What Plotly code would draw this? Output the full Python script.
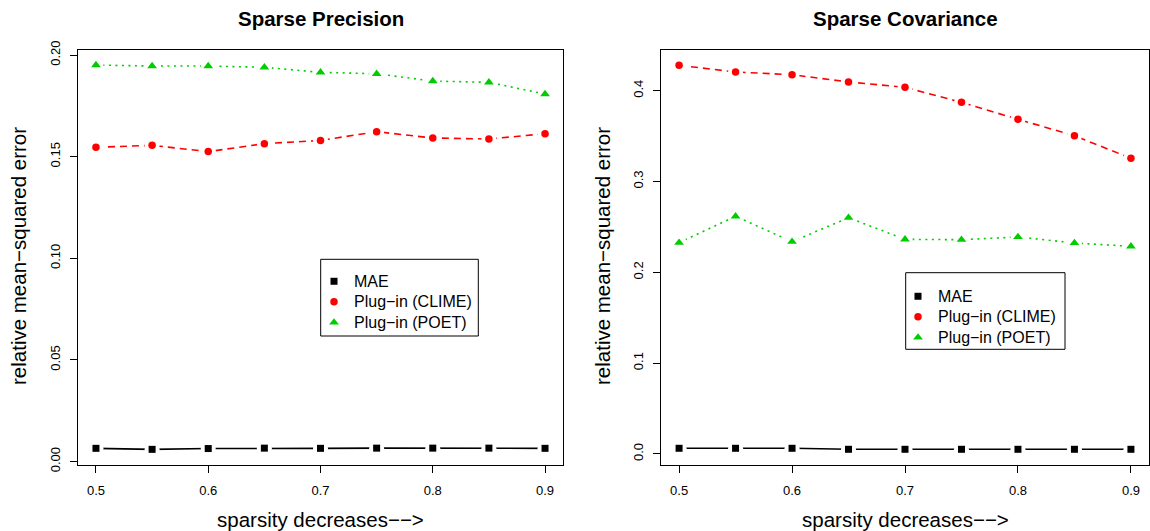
import plotly.graph_objects as go

W, H = 1150, 531

sparsity = [0.5, 0.55, 0.6, 0.65, 0.7, 0.75, 0.8, 0.85, 0.9]

# Sparse Precision panel
prec_mae = [0.0065, 0.0060, 0.0064, 0.0066, 0.0065, 0.0066, 0.0066, 0.0066, 0.0065]
prec_clime = [0.1546, 0.1556, 0.1525, 0.1564, 0.1580, 0.1623, 0.1592, 0.1587, 0.1613]
prec_poet = [0.1951, 0.1946, 0.1946, 0.1940, 0.1915, 0.1908, 0.1872, 0.1866, 0.1808]

# Sparse Covariance panel
cov_mae = [0.0062, 0.0062, 0.0062, 0.0051, 0.0051, 0.0051, 0.0051, 0.0051, 0.0051]
cov_clime = [0.4280, 0.4206, 0.4176, 0.4096, 0.4037, 0.3872, 0.3685, 0.3504, 0.3256]
cov_poet = [0.2326, 0.2617, 0.2337, 0.2601, 0.2363, 0.2359, 0.2389, 0.2323, 0.2286]

series_names = ["MAE", "Plug\u2212in (CLIME)", "Plug\u2212in (POET)"]
colors = ["#000000", "#FF0000", "#00CD00"]
symbols = ["square", "circle", "triangle-up"]
msizes = [7, 7.5, 8.5]
dashes = ["solid", "7px,5px", "2px,4.5px"]

x_ticks = [0.5, 0.6, 0.7, 0.8, 0.9]
prec_yticks = [0.00, 0.05, 0.10, 0.15, 0.20]
cov_yticks = [0.0, 0.1, 0.2, 0.3, 0.4]

FONT = "Liberation Sans, Arial, Helvetica, sans-serif"


def px_x(p):
    return p / W


def px_y(p):
    return 1 - p / H


fig = go.Figure()

panels = [
    ("x", "y", "legend", [prec_mae, prec_clime, prec_poet]),
    ("x2", "y2", "legend2", [cov_mae, cov_clime, cov_poet]),
]

for xa, ya, lg, data in panels:
    for i, vals in enumerate(data):
        fig.add_trace(go.Scatter(
            x=sparsity, y=vals, mode="lines", xaxis=xa, yaxis=ya,
            line=dict(color=colors[i], width=1.6, dash=dashes[i]),
            showlegend=False, hoverinfo="skip"))
    for i, vals in enumerate(data):
        fig.add_trace(go.Scatter(
            x=sparsity, y=vals, mode="markers", xaxis=xa, yaxis=ya,
            marker=dict(color="white", size=15, symbol="circle", line=dict(width=0)),
            showlegend=False, hoverinfo="skip"))
    for i, vals in enumerate(data):
        fig.add_trace(go.Scatter(
            x=sparsity, y=vals, mode="markers", xaxis=xa, yaxis=ya,
            marker=dict(color=colors[i], size=msizes[i], symbol=symbols[i], line=dict(width=0)),
            name=series_names[i], showlegend=False))
    for i in range(3):
        fig.add_trace(go.Scatter(
            x=[None], y=[None], mode="markers", xaxis=xa, yaxis=ya,
            marker=dict(color=colors[i], size=msizes[i], symbol=symbols[i], line=dict(width=0)),
            name=f"<span style='font-size:16px'>{series_names[i]}</span>",
            showlegend=True, legend=lg))

axis_common = dict(
    showline=True, mirror=True, linecolor="black", linewidth=1,
    ticks="outside", ticklen=7, tickwidth=1, tickcolor="black",
    showgrid=False, zeroline=False, automargin=False,
    tickfont=dict(family=FONT, size=13, color="black"),
)

legend_common = dict(xanchor="left", yanchor="top", bgcolor="rgba(0,0,0,0)", borderwidth=0,
                     font=dict(family=FONT, size=13.5, color="black"), tracegroupgap=0)

fig.update_layout(
    template="none",
    width=W, height=H, autosize=False,
    margin=dict(l=0, r=0, t=0, b=0, pad=0, autoexpand=False),
    paper_bgcolor="white", plot_bgcolor="white",
    font=dict(family=FONT, color="black"),
    xaxis=dict(domain=[px_x(78), px_x(563)], anchor="y", range=[0.484, 0.916],
               tickvals=x_ticks, ticktext=[f"{v:.1f}" for v in x_ticks],
               ticklabelstandoff=6, **axis_common),
    yaxis=dict(domain=[px_y(465), px_y(50)], anchor="x", range=[-0.0017, 0.2025],
               tickvals=prec_yticks, ticktext=[f"{v:.2f}" for v in prec_yticks],
               tickangle=-90, ticklabelstandoff=5, **axis_common),
    xaxis2=dict(domain=[px_x(661), px_x(1149)], anchor="y2", range=[0.484, 0.916],
                tickvals=x_ticks, ticktext=[f"{v:.1f}" for v in x_ticks],
                ticklabelstandoff=6, **axis_common),
    yaxis2=dict(domain=[px_y(465), px_y(50)], anchor="x2", range=[-0.0122, 0.4448],
                tickvals=cov_yticks, ticktext=[f"{v:.1f}" for v in cov_yticks],
                tickangle=-90, ticklabelstandoff=5, **axis_common),
    legend=dict(x=px_x(314), y=px_y(266), **legend_common),
    legend2=dict(x=px_x(898), y=px_y(281), **legend_common),
    showlegend=True,
)

fig.add_shape(type="rect", xref="paper", yref="paper",
              x0=px_x(320.7), x1=px_x(478.3), y0=px_y(336), y1=px_y(259.3),
              line=dict(color="black", width=1), fillcolor="rgba(0,0,0,0)", layer="above")
fig.add_shape(type="rect", xref="paper", yref="paper",
              x0=px_x(905.7), x1=px_x(1065), y0=px_y(349.3), y1=px_y(272.7),
              line=dict(color="black", width=1), fillcolor="rgba(0,0,0,0)", layer="above")

titles = [("Sparse Precision", 320.5), ("Sparse Covariance", 905)]
for txt, cx in titles:
    fig.add_annotation(text=f"<b>{txt}</b>", x=px_x(cx), y=px_y(18), xref="paper", yref="paper",
                       showarrow=False, xanchor="center", yanchor="middle",
                       font=dict(family=FONT, size=20.5, color="black"))

for cx in [320.5, 905]:
    fig.add_annotation(text="sparsity decreases\u2212\u2212>", x=px_x(cx), y=px_y(519),
                       xref="paper", yref="paper", showarrow=False,
                       xanchor="center", yanchor="middle",
                       font=dict(family=FONT, size=20.5, color="black"))

for cx in [19, 603]:
    fig.add_annotation(text="relative mean\u2212squared error", x=px_x(cx), y=px_y(256),
                       xref="paper", yref="paper", showarrow=False, textangle=-90,
                       xanchor="center", yanchor="middle",
                       font=dict(family=FONT, size=20.5, color="black"))

fig.write_html("out.html")
